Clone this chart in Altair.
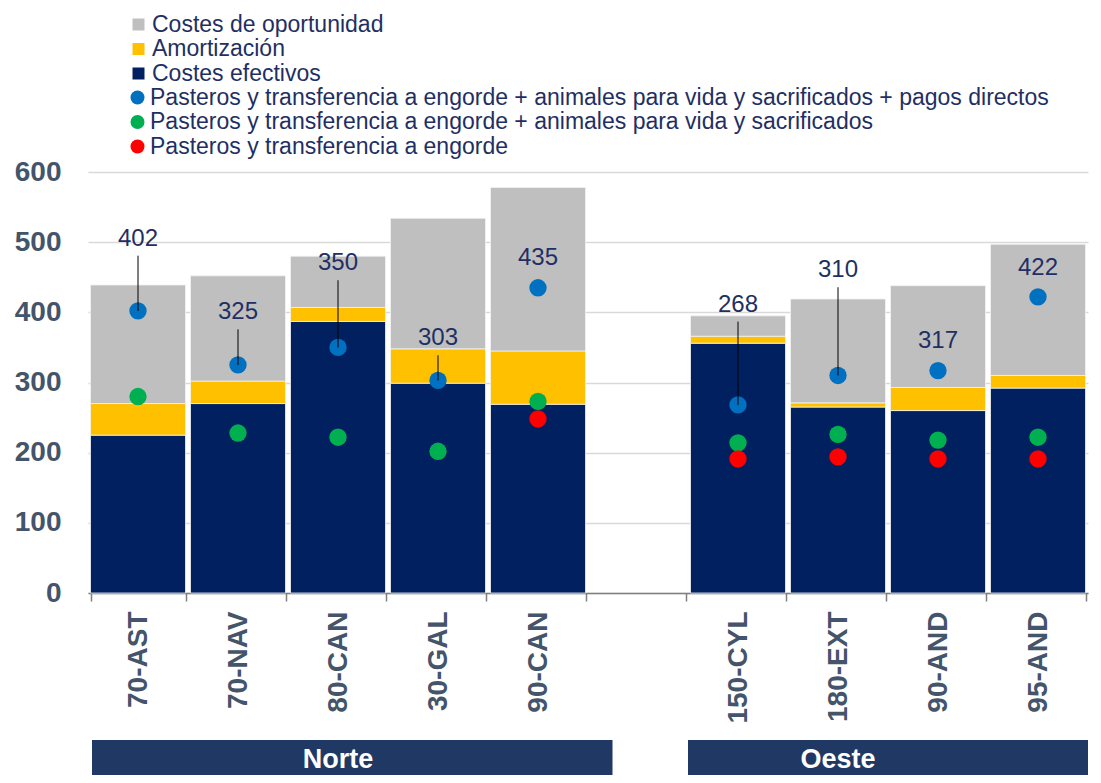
import altair as alt
import pandas as pd

# ---------------- data ----------------
categories = ["70-AST", "70-NAV", "80-CAN", "30-GAL", "90-CAN",
              "150-CYL", "180-EXT", "90-AND", "95-AND"]
groups = ["Norte"] * 5 + ["Oeste"] * 4
gap = " "
x_domain = categories[:5] + [gap] + categories[5:]

components = ["Costes de oportunidad", "Amortización", "Costes efectivos"]
costes_efectivos = [225, 270, 387, 299, 269, 356, 265, 260, 292]
amortizacion = [45, 32, 20, 49, 76, 10, 6, 33, 18]
costes_oportunidad = [169, 150, 73, 186, 233, 29, 148, 145, 187]

series_names = [
    "Pasteros y transferencia a engorde + animales para vida y sacrificados + pagos directos",
    "Pasteros y transferencia a engorde + animales para vida y sacrificados",
    "Pasteros y transferencia a engorde",
]
blue_vals = [402, 325, 350, 303, 435, 268, 310, 317, 422]
green_vals = [280, 228, 222, 202, 273, 214, 226, 218, 222]
red_vals = [None, None, None, None, 248, 191, 194, 191, 191]

# label anchor heights (data units) and whether a leader line is drawn
label_y = [505, 400, 470, 363, 478, 411, 460, 359, 463]
leader = [True, True, True, True, False, True, True, False, False]

bar_colors = ["#BFBFBF", "#FFC000", "#002060"]
pt_colors = ["#0070C0", "#00B050", "#FF0000"]

FONT = "Liberation Sans"
NAVY_TXT = "#1F2F63"
AX_TXT = "#44546A"

# ---------------- tables ----------------
rows = []
for i, c in enumerate(categories):
    rows.append({"cat": c, "comp": "Costes efectivos", "v": costes_efectivos[i], "ord": 0})
    rows.append({"cat": c, "comp": "Amortización", "v": amortizacion[i], "ord": 1})
    rows.append({"cat": c, "comp": "Costes de oportunidad", "v": costes_oportunidad[i], "ord": 2})
bars_df = pd.DataFrame(rows)

prow = []
for i, c in enumerate(categories):
    for s, vals in zip(series_names, [blue_vals, green_vals, red_vals]):
        if vals[i] is not None:
            prow.append({"cat": c, "series": s, "v": vals[i]})
pts_df = pd.DataFrame(prow)

lbl_df = pd.DataFrame({"cat": categories, "blue": blue_vals,
                       "ly": label_y, "leader": leader})

grp_df = pd.DataFrame({"grp": ["Norte", "Oeste"],
                       "start": [categories[0], categories[5]],
                       "end": [categories[4], categories[8]]})

# ---------------- encodings ----------------
xscale = alt.Scale(domain=x_domain, paddingInner=0.05, paddingOuter=0.025)
x_enc = alt.X("cat:N", scale=xscale, title=None,
              axis=alt.Axis(labelAngle=-90, labelFontSize=28, labelFontWeight="bold",
                            labelColor=AX_TXT, labelFont=FONT, tickBand="extent",
                            ticks=True, tickSize=8, tickColor="#7F7F7F", tickWidth=1.5,
                            domainColor="#7F7F7F", domainWidth=1.5, grid=False,
                            labelPadding=10))
yscale = alt.Scale(domain=[0, 600], nice=False, zero=True)
y_axis = alt.Axis(values=[0, 100, 200, 300, 400, 500, 600], labelFontSize=28,
                  labelFontWeight="bold", labelColor=AX_TXT, labelFont=FONT,
                  domain=False, ticks=False, grid=True, gridColor="#D9D9D9",
                  gridWidth=1.5, labelPadding=27)

bars = alt.Chart(bars_df).mark_bar(stroke="#F2F2F2", strokeWidth=0.8).encode(
    x=x_enc,
    y=alt.Y("v:Q", stack="zero", scale=yscale, axis=y_axis, title=None),
    color=alt.Color("comp:N", scale=alt.Scale(domain=components, range=bar_colors),
                    legend=alt.Legend(orient="none", legendX=39, legendY=-159, title=None,
                                      symbolType="square", symbolSize=144,
                                      symbolStrokeWidth=0, labelFontSize=23,
                                      labelFont=FONT, labelColor=NAVY_TXT,
                                      rowPadding=0.5, labelOffset=2, padding=0,
                                      labelLimit=1000)),
    order=alt.Order("ord:Q", sort="ascending"),
)

points = alt.Chart(pts_df).mark_circle(size=300, opacity=1).encode(
    x=alt.X("cat:N", scale=xscale),
    y=alt.Y("v:Q", scale=yscale),
    fill=alt.Fill("series:N", scale=alt.Scale(domain=series_names, range=pt_colors),
                  legend=alt.Legend(orient="none", legendX=38, legendY=-86, title=None,
                                    symbolType="circle", symbolSize=196,
                                    symbolStrokeWidth=0, labelFontSize=23,
                                    labelFont=FONT, labelColor=NAVY_TXT,
                                    rowPadding=0.5, labelOffset=1, padding=0,
                                    labelLimit=1000, symbolOpacity=1)),
)

rules = alt.Chart(lbl_df).transform_filter("datum.leader").mark_rule(
    color="black", strokeWidth=1, y2Offset=17).encode(
    x=alt.X("cat:N", scale=xscale),
    y=alt.Y("blue:Q", scale=yscale),
    y2="ly:Q",
)

labels = alt.Chart(lbl_df).mark_text(fontSize=24, font=FONT, color=NAVY_TXT,
                                     baseline="middle").encode(
    x=alt.X("cat:N", scale=xscale),
    y=alt.Y("ly:Q", scale=yscale),
    text="blue:Q",
)

norte_df = grp_df[grp_df.grp == "Norte"]
oeste_df = grp_df[grp_df.grp == "Oeste"]

def group_box(df, x_off, x2_off):
    box = alt.Chart(df).mark_rect(color="#203864", xOffset=x_off, x2Offset=x2_off).encode(
        x=alt.X("start:N", scale=xscale, bandPosition=0),
        x2=alt.X2("end:N", bandPosition=1),
        y=alt.value(568), y2=alt.value(620),
    )
    return box

norte_box = group_box(norte_df, 1.5, 27)
oeste_box = group_box(oeste_df, -2.5, 2.5)

grp_text = alt.Chart(grp_df).mark_text(fontSize=27, fontWeight="bold", font=FONT,
                                       color="white", baseline="middle").encode(
    x=alt.X("cat:N", scale=xscale),
    y=alt.value(588),
    text="grp:N",
).transform_calculate(cat="datum.grp == 'Norte' ? '80-CAN' : '180-EXT'")

chart = alt.layer(bars, points, rules, labels, norte_box, oeste_box, grp_text).resolve_scale(
    color="independent").properties(
    width=1000, height=421,
    autosize=alt.AutoSizeParams(type="none"),
    padding={"left": 80, "top": 164, "right": 5, "bottom": 182},
).configure_view(stroke=None)

chart.save("out.html", embed_options={"renderer": "svg", "actions": False})
